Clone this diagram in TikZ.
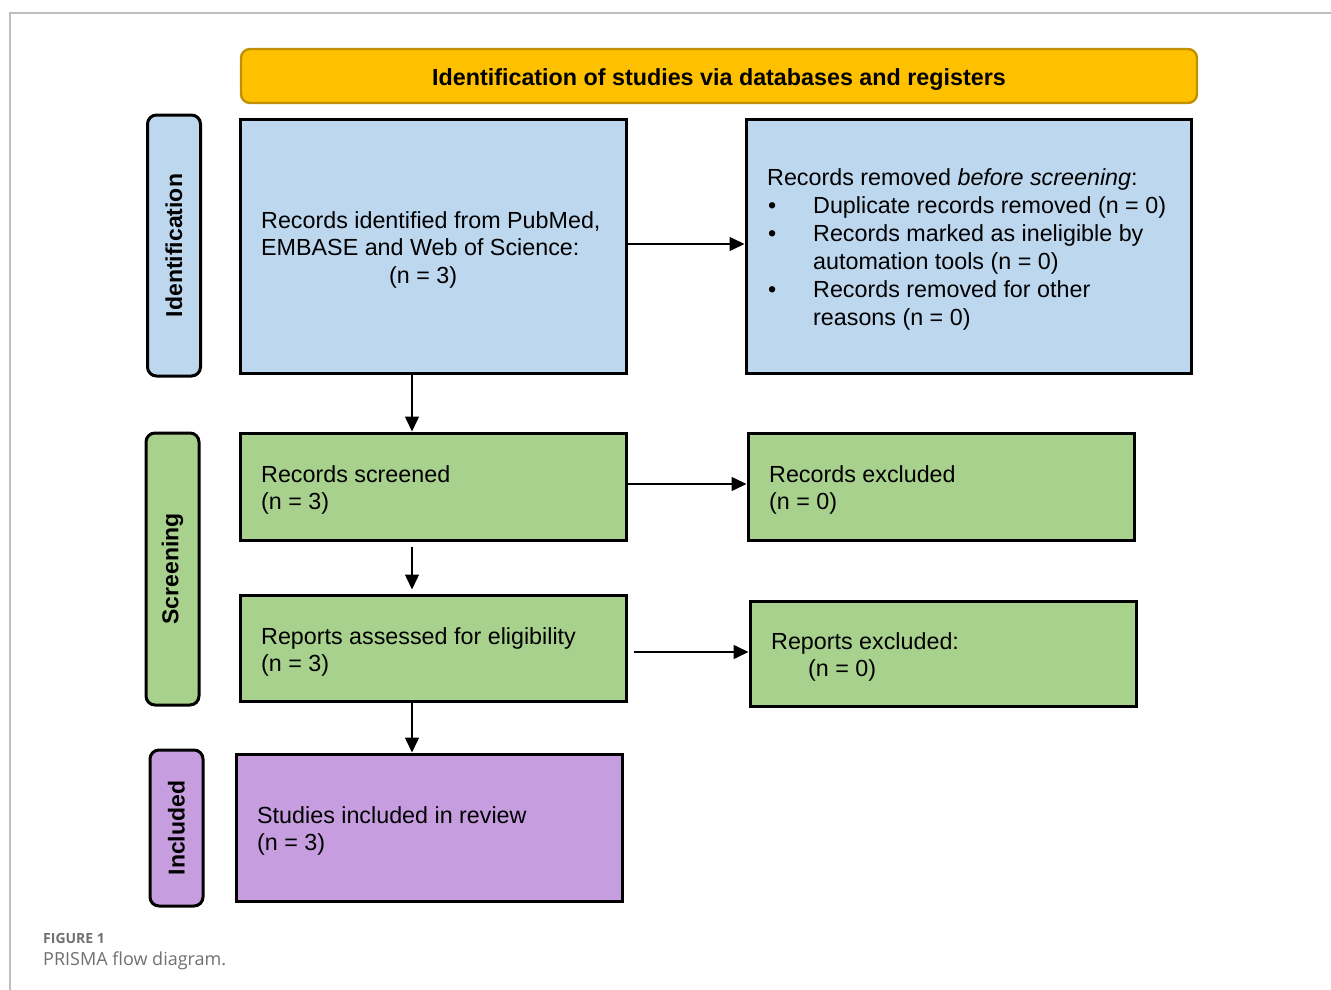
\documentclass[tikz,border=0pt]{standalone}
\usepackage{fontspec}
\setmainfont{Liberation Sans}
\newfontfamily\capfont{Open Sans}
\usetikzlibrary{arrows.meta,calc}
\definecolor{idblue}{RGB}{189,215,238}
\definecolor{scgreen}{RGB}{169,209,142}
\definecolor{inpurple}{RGB}{198,158,224}
\definecolor{bannerfill}{RGB}{255,192,0}
\definecolor{bannerdraw}{RGB}{191,144,0}
\definecolor{capgray}{RGB}{112,112,112}
\definecolor{framegray}{RGB}{190,190,190}
\newcommand{\blt}{\makebox[46pt][l]{\hspace{1pt}\textbullet}}
\tikzset{
  box/.style={draw=black, line width=3pt, rectangle, inner sep=0pt},
  side/.style={draw=black, line width=3pt, rounded corners=9pt, inner sep=0pt, minimum width=53pt},
  sidetext/.style={rotate=90, font=\fontsize{23}{27}\selectfont\bfseries},
  boxtext/.style={anchor=north west, align=left, inner sep=0pt, font=\fontsize{23.3}{27.5}\selectfont},
  flow/.style={line width=1.5pt, -{Triangle[length=15pt,width=14pt]}},
}
\begin{document}
\begin{tikzpicture}[x=1pt,y=-1pt]
\useasboundingbox (0,0) rectangle (1331,990);
% frame
\draw[framegray, line width=1.2pt] (10,990) -- (10,13) -- (1331,13);
% banner
\node[draw=bannerdraw, fill=bannerfill, line width=2.4pt, rounded corners=9pt, minimum width=956pt, minimum height=54pt, inner sep=0pt] (banner) at (719,76) {};
\node[font=\fontsize{23.3}{27}\selectfont\bfseries] (bannertext) at (719,80) {Identification of studies via databases and registers};
% side labels
\node[side, fill=idblue, minimum height=261pt] (sideid) at (174,245.5) {};
\node[sidetext] (sideidt) at (sideid) {Identification};
\node[side, fill=scgreen, minimum height=272pt] (sidesc) at (172.5,569) {};
\node[sidetext] (sidesct) at (sidesc) {Screening};
\node[side, fill=inpurple, minimum height=156pt] (sidein) at (176.5,828) {};
\node[sidetext] (sideint) at (sidein) {Included};
% boxes
\node[box, fill=idblue, minimum width=386pt, minimum height=254pt] (ident) at (433,246) {};
\node[box, fill=idblue, minimum width=445pt, minimum height=254pt] (removed) at (968.5,246) {};
\node[box, fill=scgreen, minimum width=386pt, minimum height=107pt] (screened) at (433,486.5) {};
\node[box, fill=scgreen, minimum width=386pt, minimum height=107pt] (excl) at (941,486.5) {};
\node[box, fill=scgreen, minimum width=386pt, minimum height=106pt] (assessed) at (433,648) {};
\node[box, fill=scgreen, minimum width=386pt, minimum height=105pt] (repexcl) at (943,653.5) {};
\node[box, fill=inpurple, minimum width=386pt, minimum height=147pt] (incl) at (429,827.5) {};
% texts
\node[boxtext] (identt) at (261,211) {Records identified from PubMed,\\EMBASE and Web of Science:\\\hspace*{128pt}(n = 3)};
\node[boxtext, font=\fontsize{23.3}{28}\selectfont] (removedt) at (767,168) {Records removed \textit{before screening}:\\
\blt Duplicate records removed (n = 0)\\
\blt Records marked as ineligible by\\
\hspace*{46pt}automation tools (n = 0)\\
\blt Records removed for other\\
\hspace*{46pt}reasons (n = 0)};
\node[boxtext] (screenedt) at (261,465) {Records screened\\(n = 3)};
\node[boxtext] (exclt) at (769,465) {Records excluded\\(n = 0)};
\node[boxtext] (assessedt) at (261,627) {Reports assessed for eligibility\\(n = 3)};
\node[boxtext] (repexclt) at (771,632) {Reports excluded:\\\hspace*{37pt}(n = 0)};
\node[boxtext] (inclt) at (257,806) {Studies included in review\\(n = 3)};
% connectors
\coordinate (ax) at (412,0);
\draw[flow] (ident.east |- 0,244) -- (removed.west |- 0,244);
\draw[flow] (ident.south -| ax) -- (screened.north -| ax);
\draw[flow] (screened.east |- 0,484) -- (excl.west |- 0,484);
\draw[flow, shorten <=5pt, shorten >=4pt] (screened.south -| ax) -- (assessed.north -| ax);
\draw[flow, shorten <=6pt] (assessed.east |- 0,652) -- (repexcl.west |- 0,652);
\draw[flow] (assessed.south -| ax) -- (incl.north -| ax);
% caption
\node[anchor=west, inner sep=0pt, text=capgray, font=\capfont\fontsize{14}{16}\selectfont\bfseries] (capa) at (43,938) {FIGURE 1};
\node[anchor=west, inner sep=0pt, text=capgray, font=\capfont\fontsize{18}{21}\selectfont] (capb) at (43,961) {PRISMA flow diagram.};
\end{tikzpicture}
\end{document}
